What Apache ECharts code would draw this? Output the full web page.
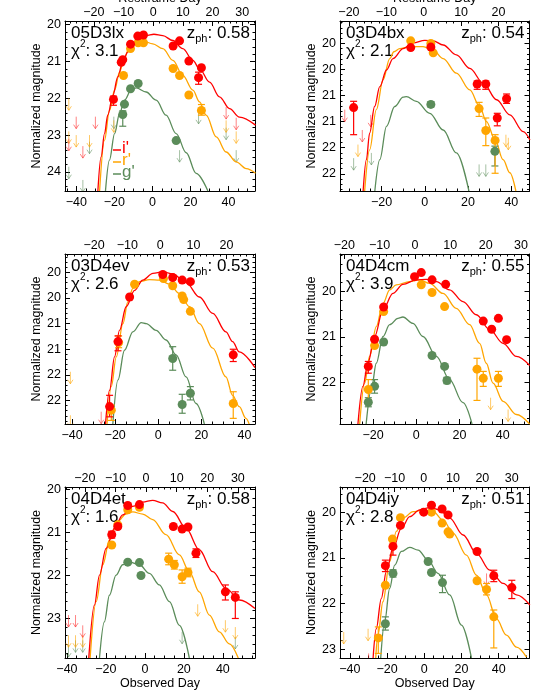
<!DOCTYPE html>
<html><head><meta charset="utf-8">
<script src="https://cdn.jsdelivr.net/npm/echarts@6/dist/echarts.min.js"></script>
<style>html,body{margin:0;padding:0;background:#fff}#c{width:550px;height:700px}</style>
</head><body><div id="c"></div>
<script>
// ---------- panel metadata ----------
const panelNames = ['05D3lx','03D4bx','03D4ev','04D4cm','04D4et','04D4iy'];
const chi2Values = ['3.1','2.1','2.6','3.9','1.6','2.8'];
const zphValues  = ['0.58','0.54','0.53','0.55','0.58','0.51'];
const obsRanges  = [[-46,54],[-39.2,48.4],[-43.3,44.9],[-35.3,52.4],[-41,56.5],[-45.3,56.6]];
const restRanges = [[-29.7,34.3],[-22.4,28.3],[-28.8,28.6],[-21.2,32.4],[-26.5,35.6],[-28.6,36.1]];
const magRanges  = [[19.9,24.52],[19.07,22.33],[19.14,22.46],[19.17,22.92],[19.94,23.92],[19.45,23.19]];
const obsTicks   = [-40,-20,0,20,40];
const restTicks  = [-20,-10,0,10,20,30];
const magTicks   = [[20,21,22,23,24],[19.5,20,20.5,21,21.5,22],[19.5,20,20.5,21,21.5,22],[20,21,22],[20,21,22,23],[20,21,22,23]];
const magTickLabels = [['20','21','22','23','24'],['20','20','21','21','22','22'],['20','20','21','21','22','22'],['20','21','22'],['20','21','22','23'],['20','21','22','23']];
const bandNames = ["i'","r'","g'"];

// ---------- panel 1: 05D3lx ----------  points: [day, mag, errUp, errDown]
const p1_i = [[-20.5,22.03,0.09,0.16],[-16.4,21.02,0,0],[-15.6,20.95,0,0],[-11.5,20.53,0,0],[-7.7,20.31,0,0],[-4.7,20.28,0,0],[10.9,20.58,0,0],[14.3,20.44,0,0],[19.2,20.99,0,0],[24.3,21.44,0.15,0.18],[25.8,21.17,0,0]];
const p1_r = [[-15.2,21.38,0,0],[-11.5,20.65,0,0],[-7.5,20.49,0,0],[-4.7,20.49,0,0],[10.9,21.19,0,0],[14.3,21.38,0,0],[19.2,21.91,0,0],[25.8,22.33,0.16,0.13]];
const p1_g = [[-15.6,22.44,0.1,0.32],[-14.7,22.16,0,0],[-11.5,21.74,0,0],[-7.5,21.6,0,0],[12.5,23.15,0,0]];
const p1_iLim = [[-40.1,22.5],[-30,22.5],[-44,23.1],[-36.6,23.3],[38.8,22.24],[44.1,22.53]];
const p1_rLim = [[-44,22.0],[-44,22.9],[-40.1,23.0],[-33.1,23.0],[-20.3,22.6],[38.8,22.6],[44.1,22.9]];
const p1_gLim = [[-33.1,23.18],[-44,23.86],[-36.6,24.22],[-20.3,22.5],[24.3,22.37],[38.8,22.8],[44.1,23.41],[14.3,23.41]];
const p1_iCurve = [[-28.7,24.52],[-27.0,23.59],[-25.2,22.96],[-23.5,22.46],[-20.8,21.92],[-18.2,21.42],[-15.6,21.01],[-12.9,20.74],[-10.3,20.54],[-6.8,20.38],[-3.3,20.30],[0.8,20.26],[5.5,20.30],[10.8,20.43],[16.0,20.65],[21.3,20.97],[24.8,21.20],[30.1,21.56],[35.3,21.96],[40.6,22.28],[45.8,22.51],[54.3,22.73]];
const p1_rCurve = [[-27.8,24.52],[-25.2,23.14],[-22.6,22.33],[-19.9,21.78],[-17.3,21.29],[-14.7,20.88],[-12.0,20.61],[-8.5,20.47],[-4.7,20.45],[0.2,20.52],[5.5,20.65],[10.8,20.97],[16.0,21.38],[21.3,21.78],[24.8,22.10],[28.3,22.46],[33.6,23.05],[38.8,23.46],[44.1,23.73],[49.4,23.91],[54.3,24.04]];
const p1_gCurve = [[-24.7,24.52],[-22.6,23.68],[-19.9,22.96],[-17.3,22.42],[-14.7,22.05],[-11.2,21.78],[-8.5,21.72],[-3.3,21.83],[2.0,22.05],[7.2,22.46],[12.5,22.96],[17.8,23.48],[23.0,24.04],[29.2,24.52]];

// ---------- panel 2: 03D4bx ----------
const p2_i = [[-32.9,20.73,0.12,0.52],[-6.5,19.58,0,0],[2.8,19.57,0,0],[24.2,20.28,0.06,0.1],[28.2,20.28,0.06,0.1],[33.5,20.93,0.09,0.15],[37.8,20.56,0.09,0.09]];
const p2_r = [[-6.5,19.45,0,0],[2.8,19.50,0,0],[3.9,19.68,0,0],[25.1,20.75,0.12,0.15],[28.2,21.17,0.24,0.29],[32.5,21.36,0.11,0.63]];
const p2_g = [[2.8,20.67,0.05,0.05],[32.4,21.57,0.1,0.28]];
const p2_iLim = [[-37.0,20.77],[-28.9,21.16],[-25.0,20.87]];
const p2_rLim = [[-30.9,21.44],[37.5,21.25],[38.6,21.31]];
const p2_gLim = [[-32.9,21.70],[-24.7,21.60],[25.1,21.82],[28.2,21.82]];
const p2_iCurve = [[-28.5,22.33],[-27.0,21.73],[-25.5,21.22],[-23.2,20.71],[-20.8,20.33],[-17.7,20.01],[-14.7,19.79],[-10.0,19.60],[-5.4,19.49],[0.0,19.44],[3.85,19.45],[8.5,19.53],[14.6,19.72],[20.8,19.98],[27.0,20.26],[33.2,20.58],[39.3,20.87],[45.5,21.19],[48.6,21.35]];
const p2_rCurve = [[-27.8,22.33],[-25.5,21.54],[-22.4,20.77],[-19.3,20.2],[-16.2,19.79],[-14.3,19.66],[-11.6,19.60],[-6.9,19.56],[-0.8,19.56],[3.85,19.63],[8.5,19.79],[14.6,20.07],[20.8,20.39],[25.4,20.71],[28.5,21.0],[32.5,21.35],[36.2,21.73],[39.3,21.98],[42.1,22.33]];
const p2_gCurve = [[-23.1,22.33],[-20.8,21.73],[-17.7,21.09],[-13.9,20.71],[-10.0,20.53],[-8.5,20.52],[-3.9,20.61],[2.3,20.84],[8.5,21.16],[14.6,21.6],[20.4,22.33]];

// ---------- panel 3: 03D4ev ----------
const p3_i = [[-22.6,22.12,0.22,0.2],[-18.7,20.85,0.11,0.18],[-13.3,19.98,0,0],[2.1,19.54,0,0],[6.7,19.60,0,0],[11.1,19.65,0,0],[14.9,19.68,0,0],[34.8,21.11,0.11,0.13]];
const p3_r = [[-21.8,22.19,0.1,0.2],[-18.4,20.87,0.13,0.1],[-11.0,19.73,0,0],[2.4,19.62,0,0],[6.7,19.76,0,0],[11.1,19.96,0,0],[11.8,20.03,0,0],[14.9,20.26,0,0],[34.8,22.06,0.23,0.29]];
const p3_g = [[6.7,21.18,0.23,0.23],[11.1,22.08,0.2,0.17],[14.9,21.86,0.13,0.13]];
const p3_iLim = [[-26.5,22.22]];
const p3_rLim = [[-40.8,21.44],[-40.8,22.29]];
const p3_gLim = [];
const p3_iCurve = [[-24.5,22.46],[-22.6,21.80],[-20.3,21.15],[-18.0,20.63],[-14.9,20.17],[-11.0,19.85],[-7.2,19.65],[-2.5,19.52],[2.1,19.49],[6.7,19.53],[12.9,19.70],[19.1,19.98],[25.3,20.30],[31.4,20.66],[34.5,20.85],[37.6,21.05],[44.9,21.36]];
const p3_rCurve = [[-23.8,22.46],[-21.8,21.73],[-19.5,21.15],[-16.4,20.5],[-14.1,20.07],[-11.8,19.81],[-8.7,19.68],[-4.1,19.64],[0.6,19.65],[5.2,19.73],[9.8,19.91],[14.5,20.17],[19.1,20.5],[25.3,20.98],[31.4,21.54],[34.5,21.9],[37.6,22.12],[40.7,22.35],[42.2,22.46]];
const p3_gCurve = [[-21.1,22.46],[-18.7,21.6],[-15.7,21.02],[-11.8,20.66],[-7.9,20.48],[-5.6,20.5],[-1.0,20.63],[3.6,20.82],[8.3,21.11],[12.9,21.54],[17.5,22.06],[21.4,22.46]];

// ---------- panel 4: 04D4cm ----------
const p4_i = [[-22.2,21.65,0.11,0.15],[-19.3,21.05,0,0],[-15.1,20.34,0,0],[-0.8,19.67,0,0],[2.3,19.58,0,0],[7.3,19.74,0,0],[13.6,19.84,0,0],[31.0,20.65,0,0],[34.9,20.83,0,0],[38.0,20.59,0,0],[41.8,21.06,0,0]];
const p4_r = [[-22.2,22.16,0.22,0.22],[-19.3,21.19,0,0],[-15.1,20.44,0,0],[2.3,19.85,0,0],[7.3,20.02,0,0],[13.1,20.33,0,0],[28.1,21.71,0.24,0.69],[31.0,21.91,0.15,0.18],[38.0,21.91,0.15,0.18]];
const p4_g = [[-22.2,22.44,0.1,0.1],[-19.3,22.09,0.15,0.15],[-15.1,21.11,0,0],[7.3,21.41,0,0],[13.1,21.65,0,0],[14.2,21.96,0.07,0.07]];
const p4_iLim = [];
const p4_rLim = [[34.4,22.34],[42.5,22.60]];
const p4_gLim = [];
const p4_iCurve = [[-27.0,22.92],[-24.7,22.09],[-22.4,21.58],[-19.3,20.99],[-15.4,20.40],[-10.8,20.04],[-6.2,19.84],[0.0,19.74],[4.6,19.73],[9.3,19.78],[15.4,19.96],[21.6,20.22],[27.8,20.51],[34.0,20.84],[40.2,21.14],[46.3,21.43],[52.5,21.63]];
const p4_rCurve = [[-26.2,22.92],[-23.9,22.02],[-21.6,21.43],[-18.5,20.77],[-15.4,20.26],[-12.3,19.96],[-9.3,19.85],[-3.1,19.78],[1.5,19.74],[6.2,19.82],[12.4,20.04],[18.5,20.37],[24.7,20.73],[29.3,21.14],[32.4,21.58],[35.5,22.02],[40.2,22.42],[46.3,22.71],[52.5,22.92]];
const p4_gCurve = [[-23.2,22.92],[-20.8,22.16],[-18.5,21.58],[-15.4,20.99],[-12.3,20.73],[-8.5,20.59],[-6.2,20.56],[-1.5,20.70],[3.1,20.99],[9.3,21.43],[15.4,21.94],[21.6,22.45],[25.8,22.92]];

// ---------- panel 5: 04D4et ----------
const p5_i = [[-17.0,21.05,0.08,0.08],[-13.9,20.86,0,0],[-8.8,20.37,0,0],[-2.8,20.35,0,0],[14.6,20.86,0,0],[19.1,20.92,0,0],[22.1,20.87,0,0],[26.2,21.48,0.1,0.1],[41.3,22.38,0.16,0.19],[46.4,22.51,0.13,0.49]];
const p5_r = [[-17.0,21.29,0,0],[-13.9,20.82,0,0],[-8.8,20.47,0,0],[-2.8,20.41,0,0],[12.2,21.62,0.14,0.13],[15.1,21.75,0.1,0.1],[19.1,22.03,0.16,0.15],[22.1,21.93,0.1,0.1]];
const p5_g = [[-8.8,21.69,0,0],[-2.8,21.70,0,0],[-2.0,22.0,0,0]];
const p5_iLim = [[-39.2,22.92],[-35.6,22.92],[-31.9,23.16]];
const p5_rLim = [[-39.2,23.39],[-35.6,23.39],[-31.9,23.39],[27.1,22.67],[41.3,23.04],[46.4,23.2]];
const p5_gLim = [[-39.2,23.62],[-35.6,23.51],[-31.9,23.51],[19.1,23.31],[46.4,23.43]];
const p5_iCurve = [[-28.8,23.92],[-25.9,22.69],[-23.3,21.99],[-19.9,21.37],[-15.6,20.90],[-11.4,20.59],[-6.2,20.39],[-1.1,20.29],[4.0,20.25],[9.1,20.31],[14.3,20.51],[21.1,20.90],[27.9,21.40],[34.8,21.91],[41.6,22.30],[48.5,22.57],[56.5,22.77]];
const p5_rCurve = [[-28.1,23.92],[-25.0,22.61],[-21.6,21.75],[-18.2,21.17],[-13.9,20.74],[-9.7,20.57],[-6.2,20.52],[-1.1,20.57],[4.0,20.70],[10.8,21.05],[17.7,21.52],[22.8,21.91],[27.9,22.38],[33.1,22.92],[38.2,23.31],[43.3,23.59],[47.9,23.92]];
const p5_gCurve = [[-23.3,23.92],[-20.8,23.08],[-18.2,22.46],[-14.8,21.99],[-11.4,21.75],[-7.9,21.69],[-2.8,21.75],[2.3,21.95],[7.4,22.22],[12.6,22.61],[17.7,23.16],[22.8,23.92]];

// ---------- panel 6: 04D4iy ----------
const p6_i = [[-20.9,21.17,0.12,0.13],[-16.8,20.75,0.14,0.19],[-12.8,20.29,0,0],[-0.3,20.0,0,0],[3.9,19.85,0,0],[9.6,19.93,0,0],[12.8,20.06,0,0],[28.4,20.86,0,0],[37.4,21.39,0.12,0.13],[47.1,21.65,0.16,0.24]];
const p6_r = [[-24.7,22.75,0.24,0.34],[-20.9,21.6,0,0],[-17.1,20.59,0,0],[-12.8,20.12,0,0],[3.9,20.0,0,0],[9.6,20.24,0,0],[12.8,20.43,0,0],[13.7,20.48,0,0],[28.4,21.5,0,0],[33.5,21.69,0.13,0.12],[37.4,22.29,0.15,0.68]];
const p6_g = [[-20.9,22.44,0.15,0.14],[-16.8,21.34,0.08,0.08],[2.1,21.08,0,0],[3.9,21.32,0,0],[9.8,21.54,0.16,0.22]];
const p6_iLim = [[-29.9,23.09],[33.5,21.34]];
const p6_rLim = [[-43.3,22.62],[-30.2,22.55]];
const p6_gLim = [];
const p6_iCurve = [[-27.5,23.19],[-25.8,22.55],[-23.1,21.89],[-20.4,21.30],[-16.8,20.79],[-12.3,20.35],[-7.8,20.1],[-2.4,19.95],[3.0,19.90],[8.3,19.95],[13.7,20.13],[20.9,20.5],[28.1,20.9],[35.3,21.27],[42.4,21.56],[49.6,21.81],[56.8,22.03]];
const p6_rCurve = [[-26.1,23.19],[-24.9,22.69],[-22.2,21.96],[-18.6,21.08],[-15.0,20.42],[-11.4,20.13],[-6.0,19.99],[-0.6,19.95],[4.8,19.99],[10.1,20.17],[15.5,20.46],[22.7,20.94],[28.1,21.38],[33.5,21.81],[38.8,22.33],[44.2,22.69],[49.6,22.95],[55.0,23.17]];
const p6_gCurve = [[-23.4,23.19],[-21.3,22.40],[-18.6,21.67],[-15.9,21.16],[-12.3,20.86],[-7.8,20.77],[-3.3,20.83],[2.1,21.05],[7.4,21.34],[13.7,21.81],[20.0,22.47],[25.4,23.19]];

const panels = [
  {pts:[p1_i,p1_r,p1_g], lims:[p1_iLim,p1_rLim,p1_gLim], curves:[p1_iCurve,p1_rCurve,p1_gCurve]},
  {pts:[p2_i,p2_r,p2_g], lims:[p2_iLim,p2_rLim,p2_gLim], curves:[p2_iCurve,p2_rCurve,p2_gCurve]},
  {pts:[p3_i,p3_r,p3_g], lims:[p3_iLim,p3_rLim,p3_gLim], curves:[p3_iCurve,p3_rCurve,p3_gCurve]},
  {pts:[p4_i,p4_r,p4_g], lims:[p4_iLim,p4_rLim,p4_gLim], curves:[p4_iCurve,p4_rCurve,p4_gCurve]},
  {pts:[p5_i,p5_r,p5_g], lims:[p5_iLim,p5_rLim,p5_gLim], curves:[p5_iCurve,p5_rCurve,p5_gCurve]},
  {pts:[p6_i,p6_r,p6_g], lims:[p6_iLim,p6_rLim,p6_gLim], curves:[p6_iCurve,p6_rCurve,p6_gCurve]}
];

// ---------- styling / layout ----------
const FONT = '"Liberation Sans", Arial, Helvetica, sans-serif';
const bandColors = ['#ff0000','#ffa500','#5b8c5a'];
const limColors  = ['rgba(255,50,50,0.6)','rgba(255,165,0,0.6)','rgba(91,140,90,0.55)'];
const boxes = [[65,21,190,170],[340,21,189.5,170],[65,254,190,170],[340,254,189.5,170],[65,487,190,171],[340,487,189.5,171]];

function steps(a, b, step) {
  const out = [];
  const s = Math.ceil(a / step - 1e-9);
  for (let n = s; n * step <= b + 1e-9; n++) out.push(+(n * step).toFixed(4));
  return out;
}
function inRange(vals, a, b) { return vals.filter(v => v >= a - 1e-9 && v <= b + 1e-9); }
function fmt(v) { return v < 0 ? '\u2212' + (-v) : String(v); }

const option = {animation:false, backgroundColor:'#fff', grid:[], xAxis:[], yAxis:[], series:[], graphic:[]};
const labelStyle = {color:'#000', fontSize:12.5, fontFamily:FONT};
const lineStyle = {color:'#000', width:1};

panels.forEach((p, k) => {
  const [L, T, W, H] = boxes[k];
  option.grid.push({left:L, top:T, width:W, height:H, containLabel:false, outerBoundsMode:'none'});
  const [x0, x1] = obsRanges[k], [r0, r1] = restRanges[k], [m0, m1] = magRanges[k];
  const mt = magTicks[k], ml = magTickLabels[k];
  const magStep = mt[1] - mt[0] >= 1 ? 0.2 : 0.1;
  const common = {gridIndex:k, type:'value', splitLine:{show:false}, scale:true};
  const major = (vals) => ({show:true, inside:true, length:5, customValues:vals, lineStyle:lineStyle});
  const minor = (vals) => ({show:true, inside:true, length:2.5, customValues:vals, lineStyle:lineStyle});
  option.xAxis.push(Object.assign({}, common, {
    position:'bottom', min:x0, max:x1,
    axisLine:{show:true, onZero:false, lineStyle},
    axisTick: major(inRange(obsTicks, x0, x1)),
    axisLabel: Object.assign({customValues:inRange(obsTicks, x0, x1), margin:5, formatter:fmt}, labelStyle),
    name: k >= 4 ? 'Observed Day' : '', nameLocation:'middle', nameGap:18,
    nameTextStyle:{color:'#000', fontSize:12.5, fontFamily:FONT}
  }));
  option.xAxis.push(Object.assign({}, common, {
    position:'bottom', min:x0, max:x1, axisLine:{show:false, onZero:false},
    axisTick: minor(steps(x0, x1, 5)), axisLabel:{show:false}
  }));
  option.xAxis.push(Object.assign({}, common, {
    position:'top', min:r0, max:r1,
    axisLine:{show:true, onZero:false, lineStyle},
    axisTick: major(inRange(restTicks, r0, r1)),
    axisLabel: Object.assign({customValues:inRange(restTicks, r0, r1), margin:2, formatter:fmt}, labelStyle),
    name: k <= 1 ? 'Restframe Day' : '', nameLocation:'middle', nameGap:13,
    nameTextStyle:{color:'#000', fontSize:12.5, fontFamily:FONT}
  }));
  option.xAxis.push(Object.assign({}, common, {
    position:'top', min:r0, max:r1, axisLine:{show:false, onZero:false},
    axisTick: minor(steps(r0, r1, 2)), axisLabel:{show:false}
  }));
  option.yAxis.push(Object.assign({}, common, {
    position:'left', inverse:true, min:m0, max:m1,
    axisLine:{show:true, onZero:false, lineStyle},
    axisTick: major(mt),
    axisLabel: Object.assign({customValues:mt, margin:4, formatter:(v) => { const i = mt.findIndex(t => Math.abs(t - v) < 1e-6); return i >= 0 ? ml[i] : ''; }}, labelStyle),
    name:'Normalized magnitude', nameLocation:'middle', nameGap:19,
    nameTextStyle:{color:'#000', fontSize:12.5, fontFamily:FONT}
  }));
  option.yAxis.push(Object.assign({}, common, {
    position:'left', inverse:true, min:m0, max:m1, axisLine:{show:false, onZero:false},
    axisTick: minor(steps(m0, m1, magStep)), axisLabel:{show:false}
  }));
  option.yAxis.push(Object.assign({}, common, {
    position:'right', inverse:true, min:m0, max:m1,
    axisLine:{show:true, onZero:false, lineStyle},
    axisTick: major(mt), axisLabel:{show:false}
  }));
  option.yAxis.push(Object.assign({}, common, {
    position:'right', inverse:true, min:m0, max:m1, axisLine:{show:false, onZero:false},
    axisTick: minor(steps(m0, m1, magStep)), axisLabel:{show:false}
  }));

  const xi = 4 * k, yi = 4 * k;
  [2, 1, 0].forEach(b => {
    const col = bandColors[b], lcol = limColors[b];
    option.series.push({
      type:'line', xAxisIndex:xi, yAxisIndex:yi, data:p.curves[b], showSymbol:false,
      smooth:0.35, smoothMonotone:'x', clip:true, z:2, silent:true,
      lineStyle:{color:col, width:1.3}
    });
    option.series.push({
      type:'custom', xAxisIndex:xi, yAxisIndex:yi, coordinateSystem:'cartesian2d', clip:true, z:2, silent:true,
      data:p.lims[b], encode:{x:0, y:1},
      renderItem:(params, api) => {
        const c = api.coord([api.value(0), api.value(1)]);
        const len = 12, hw = 2.6, hh = 4;
        return {type:'group', children:[
          {type:'line', shape:{x1:c[0], y1:c[1], x2:c[0], y2:c[1] + len}, style:{stroke:lcol, lineWidth:1}},
          {type:'polyline', shape:{points:[[c[0] - hw, c[1] + len - hh], [c[0], c[1] + len], [c[0] + hw, c[1] + len - hh]]}, style:{stroke:lcol, fill:null, lineWidth:1}}
        ]};
      }
    });
  });
  [2, 1, 0].forEach(b => {
    const col = bandColors[b];
    option.series.push({
      type:'custom', xAxisIndex:xi, yAxisIndex:yi, coordinateSystem:'cartesian2d', clip:true, z:3, silent:true,
      data:p.pts[b].filter(d => d[2] > 0 || d[3] > 0), encode:{x:0, y:1},
      renderItem:(params, api) => {
        const x = api.value(0), y = api.value(1);
        const a = api.coord([x, y - api.value(2)]), d = api.coord([x, y + api.value(3)]);
        const cw = 3.5, st = {stroke:col, lineWidth:1.2};
        return {type:'group', children:[
          {type:'line', shape:{x1:a[0], y1:a[1], x2:d[0], y2:d[1]}, style:st},
          {type:'line', shape:{x1:a[0] - cw, y1:a[1], x2:a[0] + cw, y2:a[1]}, style:st},
          {type:'line', shape:{x1:d[0] - cw, y1:d[1], x2:d[0] + cw, y2:d[1]}, style:st}
        ]};
      }
    });
  });
  [2, 1, 0].forEach(b => {
    option.series.push({
      type:'scatter', xAxisIndex:xi, yAxisIndex:yi, data:p.pts[b].map(d => [d[0], d[1]]),
      symbol:'circle', symbolSize:9, z:4, silent:true, itemStyle:{color:bandColors[b], opacity:1}
    });
  });

  option.graphic.push({type:'text', x:L + 6, y:T + 12, style:{text:panelNames[k], fontSize:17, fontFamily:FONT, fill:'#000', align:'left', verticalAlign:'middle'}});
  option.graphic.push({type:'text', x:L + 6, y:T + 30, style:{
    text:'{n|\u03c7}{s|2}{n|: ' + chi2Values[k] + '}', align:'left', verticalAlign:'middle', fill:'#000',
    rich:{n:{fontSize:17, fontFamily:FONT, lineHeight:24, fill:'#000'}, s:{fontSize:10, fontFamily:FONT, lineHeight:10, verticalAlign:'top', fill:'#000'}}
  }});
  option.graphic.push({type:'text', x:L + W - 5, y:T + 12, style:{
    text:'{n|z}{b|ph}{n|: ' + zphValues[k] + '}', align:'right', verticalAlign:'middle', fill:'#000',
    rich:{n:{fontSize:17, fontFamily:FONT, lineHeight:23, fill:'#000'}, b:{fontSize:11, fontFamily:FONT, lineHeight:11, verticalAlign:'bottom', fill:'#000'}}
  }});
});

const legendY = [149, 161, 173];
bandNames.forEach((nm, b) => {
  option.graphic.push({type:'line', shape:{x1:113, y1:legendY[b] + 1, x2:121, y2:legendY[b] + 1}, style:{stroke:bandColors[b], lineWidth:1.5}});
  option.graphic.push({type:'text', x:122, y:legendY[b] - 1, style:{text:nm, fontSize:17, fontFamily:FONT, fill:bandColors[b], align:'left', verticalAlign:'middle'}});
});

const chart = echarts.init(document.getElementById('c'), null, {renderer:'canvas', width:550, height:700});
chart.setOption(option);
</script>
</body></html>
